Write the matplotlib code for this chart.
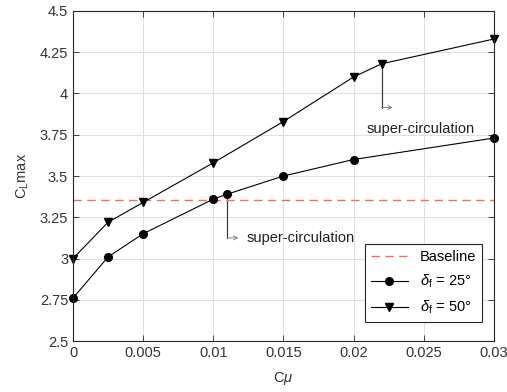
import numpy as np
import matplotlib
matplotlib.use('Agg')
import matplotlib.pyplot as plt

# data
cmu_25 = [0, 0.0025, 0.005, 0.01, 0.011, 0.015, 0.02, 0.03]
cl_25 = [2.76, 3.01, 3.15, 3.36, 3.39, 3.50, 3.60, 3.73]
cmu_50 = [0, 0.0025, 0.005, 0.01, 0.015, 0.02, 0.022, 0.03]
cl_50 = [3.00, 3.22, 3.34, 3.58, 3.83, 4.10, 4.18, 4.33]
baseline = 3.355

xticks = [0, 0.005, 0.01, 0.015, 0.02, 0.025, 0.03]
xticklabels = ['0', '0.005', '0.01', '0.015', '0.02', '0.025', '0.03']
yticks = [2.5, 2.75, 3, 3.25, 3.5, 3.75, 4, 4.25, 4.5]
yticklabels = ['2.5', '2.75', '3', '3.25', '3.5', '3.75', '4', '4.25', '4.5']

plt.rcParams['font.family'] = ['Liberation Sans', 'DejaVu Sans']
plt.rcParams['mathtext.fontset'] = 'custom'
plt.rcParams['mathtext.rm'] = 'Liberation Sans'
plt.rcParams['mathtext.it'] = 'Liberation Sans:italic'
plt.rcParams['font.size'] = 10.5

fig = plt.figure(figsize=(5.07, 3.92), dpi=100)
ax = fig.add_axes([0.144, 0.130, 0.830, 0.842])

ax.axhline(baseline, color='#ff6666', ls=(0, (6, 4)), lw=1.0, label='Baseline')
ax.plot(cmu_25, cl_25, '-o', color='black', lw=0.8, ms=5.5, clip_on=False,
        label=r'$\delta_{\mathrm{f}}$ = 25°')
ax.plot(cmu_50, cl_50, '-v', color='black', lw=0.8, ms=6, clip_on=False,
        label=r'$\delta_{\mathrm{f}}$ = 50°')

# super-circulation markers (hook lines + small arrows)
def hook(x0, y0, y1, dx, tx, ty):
    ax.plot([x0, x0], [y0, y1], color='#404040', lw=0.9, zorder=1)
    ax.annotate('', xy=(x0 + dx, y1), xytext=(x0, y1),
                arrowprops=dict(arrowstyle='->', color='#808080', lw=0.7,
                                shrinkA=0, shrinkB=0, mutation_scale=7))
    ax.text(tx, ty, 'super-circulation', fontsize=10.5, color='#202020',
            va='center', ha='left')

hook(0.022, 4.18, 3.915, 0.0008, 0.0209, 3.785)
hook(0.011, 3.39, 3.125, 0.0008, 0.01235, 3.125)

ax.set_xlim(0, 0.03)
ax.set_ylim(2.5, 4.5)
ax.set_xticks(xticks)
ax.set_xticklabels(xticklabels)
ax.set_yticks(yticks)
ax.set_yticklabels(yticklabels)
ax.grid(True, color='#e0e0e0', lw=0.8)
ax.set_axisbelow(True)
ax.tick_params(direction='in', top=True, right=True, colors='#262626',
               labelcolor='#333333', length=4, width=0.6)
for s in ax.spines.values():
    s.set_color('#262626')
    s.set_linewidth(0.8)

ax.set_xlabel(r'C$\mu$', color='#333333', labelpad=7)
ax.set_ylabel(r'C$_{\mathrm{L}}$max', color='#333333', labelpad=6)

leg = ax.legend(loc='lower right', bbox_to_anchor=(0.99, 0.035),
                fancybox=False, edgecolor='#262626', framealpha=1,
                handlelength=2.6, borderpad=0.4, labelspacing=0.6)
leg.get_frame().set_linewidth(0.8)

fig.savefig('out.png', dpi=100, facecolor='w')
